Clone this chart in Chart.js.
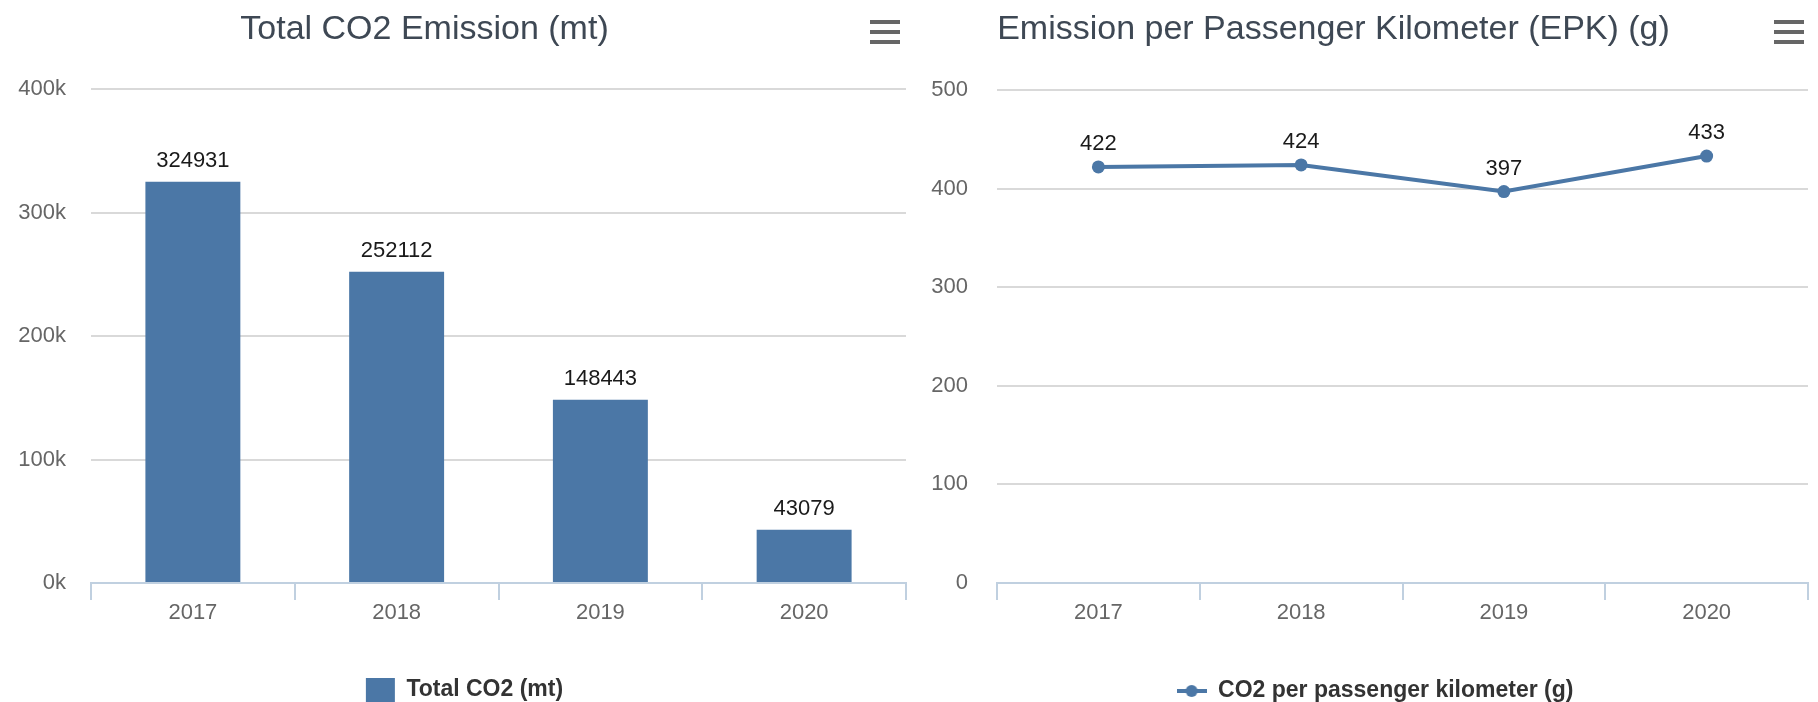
<!DOCTYPE html>
<html>
<head>
<meta charset="utf-8">
<script src="https://cdn.jsdelivr.net/npm/chart.js@4.4.1/dist/chart.umd.min.js"></script>
<style>
  html, body { margin: 0; padding: 0; background: #ffffff; }
  #wrap { position: relative; width: 1818px; height: 702px; overflow: hidden; }
  .panel { position: absolute; top: 0; width: 909px; height: 702px; }
  #p1 { left: 0; }
  #p2 { left: 909px; }
</style>
</head>
<body>
<div id="wrap">
  <div class="panel" id="p1"><canvas id="c1" width="909" height="702"></canvas></div>
  <div class="panel" id="p2"><canvas id="c2" width="909" height="702"></canvas></div>
</div>
<script>
// ---- data ----
const categories = ['2017', '2018', '2019', '2020'];
const totalCO2 = [324931, 252112, 148443, 43079];
const epk = [422, 424, 397, 433];
const leftTickLabels = ['0k', '100k', '200k', '300k', '400k'];
const rightTickLabels = ['0', '100', '200', '300', '400', '500'];
const leftTitle = 'Total CO2 Emission (mt)';
const rightTitle = 'Emission per Passenger Kilometer (EPK) (g)';
const leftSeriesName = 'Total CO2 (mt)';
const rightSeriesName = 'CO2 per passenger kilometer (g)';

// ---- styles ----
const FONT = '"Liberation Sans", Arial, Helvetica, sans-serif';
const SERIES_COLOR = '#4b77a6';
const GRID_COLOR = '#d9d9d9';
const AXIS_COLOR = '#c0d0e0';
const LABEL_COLOR = '#666666';
const TITLE_COLOR = '#3e4854';
const DARK = '#333333';

Chart.defaults.font.family = FONT;
Chart.defaults.animation = false;

// let the y-axis tick labels extend past the axis box (no clipping)
Chart.LinearScale.prototype._computeLabelArea = function () { return undefined; };

// title + menu icon + data labels
const decorPlugin = {
  id: 'decor',
  afterDraw(chart, args, opts) {
    const ctx = chart.ctx;
    ctx.save();
    // title
    ctx.font = '34px ' + FONT;
    ctx.fillStyle = TITLE_COLOR;
    ctx.textAlign = 'center';
    ctx.textBaseline = 'alphabetic';
    ctx.fillText(opts.title, opts.titleX, 39);
    // menu icon
    ctx.strokeStyle = '#666666';
    ctx.lineWidth = 4;
    ctx.lineCap = 'butt';
    [22, 32, 42].forEach(y => {
      ctx.beginPath();
      ctx.moveTo(opts.menuX, y);
      ctx.lineTo(opts.menuX + 30, y);
      ctx.stroke();
    });
    // data labels
    ctx.font = '22px ' + FONT;
    ctx.fillStyle = '#1a1a1a';
    ctx.textAlign = 'center';
    ctx.textBaseline = 'middle';
    const meta = chart.getDatasetMeta(0);
    const data = chart.data.datasets[0].data;
    meta.data.forEach((el, i) => {
      ctx.fillText(String(data[i]), el.x, el.y - opts.labelOffset);
    });
    ctx.restore();
  }
};

function zeroHidden(c) {
  return c.tick && c.tick.value === 0 ? 'rgba(0,0,0,0)' : GRID_COLOR;
}

// legend symbol for the line series: line with a round marker
const lineSymbol = document.createElement('canvas');
lineSymbol.width = 30; lineSymbol.height = 14;
(function () {
  const g = lineSymbol.getContext('2d');
  g.strokeStyle = SERIES_COLOR; g.lineWidth = 4;
  g.beginPath(); g.moveTo(0, 7); g.lineTo(30, 7); g.stroke();
  g.fillStyle = SERIES_COLOR;
  g.beginPath(); g.arc(15, 7, 6, 0, Math.PI * 2); g.fill();
})();

function xAxis(height) {
  return {
    type: 'category',
    offset: true,
    grid: {
      display: true, drawOnChartArea: false, drawTicks: true,
      tickLength: 17, color: AXIS_COLOR, lineWidth: 2, offset: true
    },
    border: { display: true, color: AXIS_COLOR, width: 2 },
    ticks: { color: LABEL_COLOR, font: { size: 22 }, padding: 0, maxRotation: 0 },
    afterFit(s) { s.height = height; }
  };
}

// ---- left chart: bars ----
new Chart(document.getElementById('c1'), {
  type: 'bar',
  data: {
    labels: categories,
    datasets: [{
      label: leftSeriesName,
      data: totalCO2,
      backgroundColor: SERIES_COLOR,
      borderWidth: 0,
      categoryPercentage: 1,
      barPercentage: 0.466
    }]
  },
  options: {
    responsive: false,
    layout: { padding: { left: 23, right: 3, top: 89, bottom: -10 } },
    plugins: {
      title: { display: false },
      tooltip: { enabled: false },
      legend: {
        position: 'bottom',
        labels: {
          boxWidth: 29, boxHeight: 24, padding: 10,
          color: DARK, font: { size: 23, weight: 'bold' }
        }
      },
      decor: { title: leftTitle, titleX: 424.5, menuX: 870, labelOffset: 21 }
    },
    scales: {
      x: xAxis(85),
      y: {
        min: 0, max: 400000,
        ticks: {
          stepSize: 100000, color: LABEL_COLOR, font: { size: 22 }, padding: 25,
          callback: (v) => leftTickLabels[Math.round(v / 100000)]
        },
        grid: { color: zeroHidden, lineWidth: 2, drawTicks: false },
        border: { display: false },
        afterFit(s) { s.width = 68; }
      }
    }
  },
  plugins: [decorPlugin]
});

// ---- right chart: line ----
new Chart(document.getElementById('c2'), {
  type: 'line',
  data: {
    labels: categories,
    datasets: [{
      label: rightSeriesName,
      data: epk,
      borderColor: SERIES_COLOR,
      backgroundColor: SERIES_COLOR,
      borderWidth: 4,
      tension: 0,
      pointRadius: 6.5,
      pointBorderWidth: 0,
      pointBackgroundColor: SERIES_COLOR,
      fill: false
    }]
  },
  options: {
    responsive: false,
    layout: { padding: { left: 33, right: 10, top: 90, bottom: -10.5 } },
    plugins: {
      title: { display: false },
      tooltip: { enabled: false },
      legend: {
        position: 'bottom',
        labels: {
          usePointStyle: true, pointStyle: lineSymbol, pointStyleWidth: 30,
          padding: 10, color: DARK, font: { size: 23, weight: 'bold' }
        }
      },
      decor: { title: rightTitle, titleX: 424.5, menuX: 865, labelOffset: 23 }
    },
    scales: {
      x: xAxis(86.5),
      y: {
        min: 0, max: 500,
        ticks: {
          stepSize: 100, color: LABEL_COLOR, font: { size: 22 }, padding: 29,
          callback: (v) => rightTickLabels[Math.round(v / 100)]
        },
        grid: { color: zeroHidden, lineWidth: 2, drawTicks: false },
        border: { display: false },
        afterFit(s) { s.width = 55; }
      }
    }
  },
  plugins: [decorPlugin]
});
</script>
</body>
</html>
